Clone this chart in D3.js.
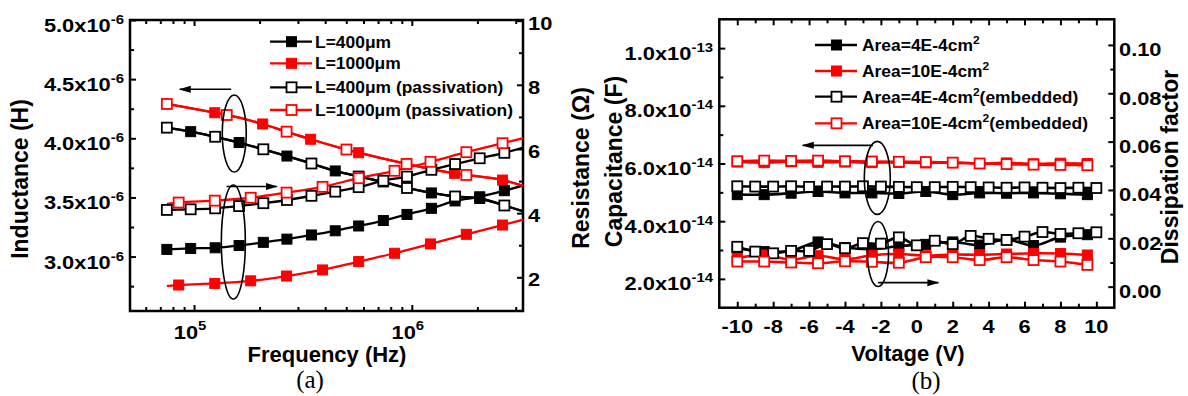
<!DOCTYPE html>
<html>
<head>
<meta charset="utf-8">
<script src="https://cdn.jsdelivr.net/npm/d3@7"></script>
<style>
body { margin: 0; background: #fff; }
svg text { font-family: "Liberation Sans", Arial, sans-serif; font-weight: bold; fill: #000; }
</style>
</head>
<body>
<svg id="chart" width="1188" height="396"></svg>
<script>
// ---------- panel (a): inductance / resistance vs frequency ----------
// black curves (L=400um), one point per measured frequency
var freqBlack = [7.5e4, 9.65e4, 1.25e5, 1.61e5, 2.08e5, 2.67e5, 3.46e5, 4.45e5, 5.7e5, 7.4e5, 9.5e5, 1.23e6, 1.58e6, 2.05e6, 2.66e6, 3.42e6];
var indL400 = [4.09, 4.056, 4.013, 3.964, 3.907, 3.85, 3.787, 3.724, 3.677, 3.631, 3.58, 3.538, 3.508, 3.491, 3.432, 3.37]; // x10^-6 H
var resL400 = [2.87, 2.90, 2.92, 2.99, 3.09, 3.19, 3.32, 3.45, 3.60, 3.77, 3.96, 4.15, 4.38, 4.51, 4.70, 4.91];
var resL400p = [4.10, 4.12, 4.15, 4.22, 4.31, 4.41, 4.54, 4.67, 4.81, 5.01, 5.14, 5.35, 5.53, 5.71, 5.88, 6.09];
// red curves (L=1000um)
var freqRedInd = [7.5e4, 1.245e5, 1.413e5, 2.066e5, 2.66e5, 3.43e5, 5.01e5, 5.7e5, 9.46e5, 1.57e6, 1.78e6, 2.61e6, 3.36e6];
var indL1000 = [4.29, 4.216, 4.197, 4.121, 4.056, 3.992, 3.905, 3.878, 3.783, 3.704, 3.69, 3.647, 3.59];
var freqRedRes = [7.5e4, 8.5e4, 1.245e5, 1.82e5, 2.66e5, 3.89e5, 5.7e5, 8.33e5, 1.218e6, 1.78e6, 2.61e6, 3.36e6];
var resL1000 = [1.73, 1.76, 1.81, 1.89, 2.04, 2.23, 2.49, 2.75, 3.04, 3.34, 3.63, 3.82];
var resL1000p = [4.29, 4.33, 4.39, 4.48, 4.64, 4.82, 5.09, 5.32, 5.60, 5.90, 6.18, 6.36];

var legendA = ['L=400\u03bcm', 'L=1000\u03bcm', 'L=400\u03bcm (passivation)', 'L=1000\u03bcm (passivation)'];
var freqTickMajor = [1e5, 1e6];
var indTicks = [3.0, 3.5, 4.0, 4.5, 5.0];
var resTicks = [2, 4, 6, 8, 10];

// ---------- panel (b): capacitance / dissipation vs voltage ----------
var voltsAll = [-10, -9, -8, -7, -6, -5, -4, -3, -2, -1, 0, 1, 2, 3, 4, 5, 6, 7, 8, 9, 10];
var voltsSkip = [-10, -8.5, -7, -5.5, -4, -2.5, -1, 0.5, 2, 3.5, 5, 6.5, 8, 9.5];
var capA4 = [4.92, 4.92, 4.97, 5.03, 4.98, 4.98, 4.96, 5.03, 4.92, 4.98, 4.97, 4.98, 4.95, 4.92]; // x10^-14 F
var capA10 = [6.05, 6.03, 6.06, 6.04, 6.05, 6.03, 6.04, 6.02, 6.03, 6.0, 6.02, 5.99, 6.01, 6.0];
var capA4e = [5.21, 5.2, 5.2, 5.21, 5.19, 5.2, 5.2, 5.21, 5.2, 5.19, 5.18, 5.18, 5.19, 5.18, 5.17, 5.16, 5.17, 5.16, 5.15, 5.16, 5.15];
var capA10e = [6.08, 6.1, 6.09, 6.1, 6.08, 6.07, 6.06, 6.05, 6.03, 6.0, 5.98, 5.96, 5.95, 5.94];
var dfA4 = [0.016, 0.0145, 0.0148, 0.0185, 0.0162, 0.0155, 0.0168, 0.0175, 0.0185, 0.0172, 0.0195, 0.017, 0.0205, 0.0215];
var dfA10 = [0.0118, 0.0131, 0.0112, 0.0128, 0.0113, 0.013, 0.0135, 0.0128, 0.0133, 0.0132, 0.0135, 0.0138, 0.0137, 0.0131];
var dfA4e = [0.0165, 0.0145, 0.0138, 0.0148, 0.0148, 0.0176, 0.0159, 0.018, 0.0178, 0.0204, 0.0171, 0.019, 0.0176, 0.021, 0.0198, 0.0193, 0.0207, 0.0226, 0.0218, 0.0221, 0.0225];
var dfA10e = [0.0104, 0.0104, 0.010, 0.0097, 0.0105, 0.0103, 0.0099, 0.0122, 0.0122, 0.011, 0.0122, 0.011, 0.0104, 0.009];

var legendB = ['Area=4E-4cm', 'Area=10E-4cm', 'Area=4E-4cm', 'Area=10E-4cm'];
var legendBSuffix = ['', '', '(embedded)', '(embedded)'];
var voltTicks = [-10, -8, -6, -4, -2, 0, 2, 4, 6, 8, 10];
var capTicks = [2, 4, 6, 8, 10];
var capTickMant = ['2.0', '4.0', '6.0', '8.0', '1.0'];
var capTickExp = ['-14', '-14', '-14', '-14', '-13'];
var dfTicks = [0, 0.02, 0.04, 0.06, 0.08, 0.10];

var RED = '#ff0000';
var svg = d3.select('#chart');

var defs = svg.append('defs');
defs.append('marker').attr('id', 'arrow')
  .attr('markerUnits', 'userSpaceOnUse')
  .attr('markerWidth', 12).attr('markerHeight', 8)
  .attr('refX', 11).attr('refY', 4).attr('orient', 'auto')
  .append('path').attr('d', 'M0,0.5 L12,4 L0,7.5 z').attr('fill', '#000');

function addClip(id, x0, y0, w, h) {
  defs.append('clipPath').attr('id', id)
    .append('rect').attr('x', x0).attr('y', y0).attr('width', w).attr('height', h);
}

// ticks only (inward), labels drawn by hand
function tickAxis(g, axis, tx, ty, vals, size) {
  g.append('g')
    .attr('transform', 'translate(' + tx + ',' + ty + ')')
    .call(axis.tickValues(vals).tickSize(-size).tickFormat(''))
    .call(function(a) {
      a.select('.domain').remove();
      a.selectAll('line').attr('stroke', '#000').attr('stroke-width', 2);
    });
}

// text in the reference is a bit wider than Arial, so stretch it a little
function wideText(g, x, y, size, sx, anchor) {
  return g.append('text')
    .attr('transform', 'translate(' + x + ',' + y + ') scale(' + sx + ',1)')
    .attr('text-anchor', anchor || 'start')
    .attr('font-size', size);
}

function drawMarker(g, cx, cy, filled, color, s) {
  g.append('rect')
    .attr('x', cx - s / 2).attr('y', cy - s / 2)
    .attr('width', s).attr('height', s)
    .attr('fill', filled ? color : '#fff')
    .attr('stroke', color).attr('stroke-width', filled ? 1 : 1.8);
}

function sci(text, mant, exp) {
  text.append('tspan').text(mant + 'x10');
  text.append('tspan').attr('dy', -8).attr('font-size', 13).text(exp);
}

// ================= panel (a) =================
var A = { l: 130, r: 523, t: 20, b: 311 };
var xA = d3.scaleLog().domain([5.08e4, 3.24e6]).range([A.l, A.r]);
var yInd = d3.scaleLinear().domain([2.54, 5.0]).range([A.b, A.t]);
var yRes = d3.scaleLinear().domain([0.95, 10.02]).range([A.b, A.t]);
var gA = svg.append('g');
addClip('clipA', A.l, A.t, A.r - A.l, A.b - A.t);

var minorF = [];
[1e4, 1e5, 1e6].forEach(function(d) {
  for (var k = 2; k <= 9; k++) {
    var f = d * k;
    if (f > xA.domain()[0] && f < xA.domain()[1]) minorF.push(f);
  }
});
tickAxis(gA, d3.axisBottom(xA), 0, A.b, freqTickMajor, 6);
tickAxis(gA, d3.axisBottom(xA), 0, A.b, minorF, 4);
tickAxis(gA, d3.axisTop(xA), 0, A.t, freqTickMajor, 6);
tickAxis(gA, d3.axisTop(xA), 0, A.t, minorF, 4);
tickAxis(gA, d3.axisLeft(yInd), A.l, 0, indTicks, 6);
tickAxis(gA, d3.axisLeft(yInd), A.l, 0, [2.75, 3.25, 3.75, 4.25, 4.75], 4);
tickAxis(gA, d3.axisRight(yRes), A.r, 0, resTicks, 6);
tickAxis(gA, d3.axisRight(yRes), A.r, 0, [3, 5, 7, 9], 4);

gA.append('rect').attr('x', A.l).attr('y', A.t)
  .attr('width', A.r - A.l).attr('height', A.b - A.t)
  .attr('fill', 'none').attr('stroke', '#000').attr('stroke-width', 2.5);

indTicks.forEach(function(v) {
  sci(wideText(gA, 124, yInd(v) + 12, 19, 1.15, 'end'), v.toFixed(1), '-6');
});
resTicks.forEach(function(v) {
  wideText(gA, 528, yRes(v) + 9, 19, 1.15).text(v);
});
freqTickMajor.forEach(function(f) {
  var t = wideText(gA, xA(f) - 4, 339, 19, 1.15, 'middle');
  t.append('tspan').text('10');
  t.append('tspan').attr('dy', -9).attr('font-size', 13).text(Math.round(Math.log10(f)));
});

gA.append('text').attr('transform', 'translate(28,179) rotate(-90)')
  .attr('text-anchor', 'middle').attr('font-size', 23).text('Inductance (H)');
gA.append('text').attr('transform', 'translate(589,168) rotate(-90)')
  .attr('text-anchor', 'middle').attr('font-size', 23).text('Resistance (\u03a9)');
gA.append('text').attr('x', 327).attr('y', 362)
  .attr('text-anchor', 'middle').attr('font-size', 22).text('Frequency (Hz)');
gA.append('text').attr('x', 310).attr('y', 388)
  .attr('text-anchor', 'middle').attr('font-size', 25)
  .style('font-family', '"Liberation Serif", "Times New Roman", serif').style('font-weight', 'normal')
  .text('(a)');

var seriesA = [
  { f: freqBlack, v: indL400, y: yInd, color: '#000', filled: true, marks: [1, 3, 5, 7, 9, 11, 13] },
  { f: freqRedInd, v: indL1000, y: yInd, color: RED, filled: true, marks: [1, 3, 5, 7, 8, 9, 11] },
  { f: freqBlack, v: resL400, y: yRes, color: '#000', filled: true, marks: d3.range(0, 15) },
  { f: freqRedRes, v: resL1000, y: yRes, color: RED, filled: true, marks: d3.range(1, 11) },
  { f: freqBlack, v: indL400, y: yInd, color: '#000', filled: false, marks: [0, 2, 4, 6, 8, 10, 12, 14] },
  { f: freqRedInd, v: indL1000, y: yInd, color: RED, filled: false, marks: [0, 2, 4, 6, 8, 10] },
  { f: freqBlack, v: resL400p, y: yRes, color: '#000', filled: false, marks: d3.range(0, 15) },
  { f: freqRedRes, v: resL1000p, y: yRes, color: RED, filled: false, marks: d3.range(1, 11) }
];

var plotA = gA.append('g').attr('clip-path', 'url(#clipA)');
seriesA.forEach(function(s) {
  var pts = s.f.map(function(f, i) { return [xA(f), s.y(s.v[i])]; });
  plotA.append('path')
    .attr('d', d3.line().curve(d3.curveMonotoneX)(pts))
    .attr('fill', 'none').attr('stroke', s.color).attr('stroke-width', 2.3);
});
seriesA.forEach(function(s) {
  s.marks.forEach(function(i) {
    drawMarker(plotA, xA(s.f[i]), s.y(s.v[i]), s.filled, s.color, 10);
  });
});

// annotations
gA.append('ellipse').attr('cx', xA(1.53e5)).attr('cy', yInd(4.04))
  .attr('rx', 12).attr('ry', 38.5).attr('fill', 'none').attr('stroke', '#000').attr('stroke-width', 1.6);
gA.append('ellipse').attr('cx', xA(1.515e5)).attr('cy', yRes(3.10))
  .attr('rx', 12).attr('ry', 57).attr('fill', 'none').attr('stroke', '#000').attr('stroke-width', 1.6);
gA.append('line').attr('x1', xA(1.48e5)).attr('x2', xA(8.6e4))
  .attr('y1', yInd(4.414)).attr('y2', yInd(4.414))
  .attr('stroke', '#000').attr('stroke-width', 1.6).attr('marker-end', 'url(#arrow)');
gA.append('line').attr('x1', xA(1.41e5)).attr('x2', xA(2.4e5))
  .attr('y1', yRes(4.83)).attr('y2', yRes(4.83))
  .attr('stroke', '#000').attr('stroke-width', 1.6).attr('marker-end', 'url(#arrow)');

// legend (a)
var legYA = [41.7, 63.3, 87.3, 110];
[seriesA[0], seriesA[1], seriesA[4], seriesA[5]].forEach(function(s, i) {
  gA.append('line').attr('x1', 270).attr('x2', 312).attr('y1', legYA[i]).attr('y2', legYA[i])
    .attr('stroke', s.color).attr('stroke-width', 2.3);
  drawMarker(gA, 291.5, legYA[i], s.filled, s.color, 10);
  wideText(gA, 315, legYA[i] + 6, 16, 1.09).text(legendA[i]);
});

// ================= panel (b) =================
var B = { l: 719.3, r: 1114.3, t: 19.3, b: 307.7 };
var xB = d3.scaleLinear().domain([-11, 11]).range([B.l, B.r]);
var yCap = d3.scaleLinear().domain([1, 11]).range([B.b, B.t]);
var yDf = d3.scaleLinear().domain([-0.0087, 0.1106]).range([B.b, B.t]);
var gB = svg.append('g');
addClip('clipB', B.l, B.t, B.r - B.l, B.b - B.t);

var voltMinor = [-9, -7, -5, -3, -1, 1, 3, 5, 7, 9];
tickAxis(gB, d3.axisBottom(xB), 0, B.b, voltTicks, 6);
tickAxis(gB, d3.axisBottom(xB), 0, B.b, voltMinor, 4);
tickAxis(gB, d3.axisTop(xB), 0, B.t, voltTicks, 6);
tickAxis(gB, d3.axisTop(xB), 0, B.t, voltMinor, 4);
tickAxis(gB, d3.axisLeft(yCap), B.l, 0, capTicks, 6);
tickAxis(gB, d3.axisLeft(yCap), B.l, 0, [3, 5, 7, 9], 4);
tickAxis(gB, d3.axisRight(yDf), B.r, 0, dfTicks, 6);
tickAxis(gB, d3.axisRight(yDf), B.r, 0, [0.01, 0.03, 0.05, 0.07, 0.09], 4);

gB.append('rect').attr('x', B.l).attr('y', B.t)
  .attr('width', B.r - B.l).attr('height', B.b - B.t)
  .attr('fill', 'none').attr('stroke', '#000').attr('stroke-width', 2.5);

capTicks.forEach(function(v, i) {
  sci(wideText(gB, 713, yCap(v) + 11.5, 19, 1.15, 'end'), capTickMant[i], capTickExp[i]);
});
dfTicks.forEach(function(v) {
  wideText(gB, 1119, yDf(v) + 11.5, 19, 1.15).text(v.toFixed(2));
});
voltTicks.forEach(function(v) {
  wideText(gB, xB(v), 333, 19, 1.15, 'middle').text(v);
});

gB.append('text').attr('transform', 'translate(622,161.5) rotate(-90)')
  .attr('text-anchor', 'middle').attr('font-size', 23).text('Capacitance (F)');
gB.append('text').attr('transform', 'translate(1178,167) rotate(-90)')
  .attr('text-anchor', 'middle').attr('font-size', 23).text('Dissipation factor');
gB.append('text').attr('x', 908).attr('y', 361)
  .attr('text-anchor', 'middle').attr('font-size', 22).text('Voltage (V)');
gB.append('text').attr('x', 926).attr('y', 389)
  .attr('text-anchor', 'middle').attr('font-size', 25)
  .style('font-family', '"Liberation Serif", "Times New Roman", serif').style('font-weight', 'normal')
  .text('(b)');

var seriesB = [
  { x: voltsSkip, v: capA4, y: yCap, color: '#000', filled: true },
  { x: voltsSkip, v: dfA4, y: yDf, color: '#000', filled: true },
  { x: voltsSkip, v: capA10, y: yCap, color: RED, filled: true },
  { x: voltsSkip, v: dfA10, y: yDf, color: RED, filled: true },
  { x: voltsAll, v: capA4e, y: yCap, color: '#000', filled: false },
  { x: voltsAll, v: dfA4e, y: yDf, color: '#000', filled: false },
  { x: voltsSkip, v: capA10e, y: yCap, color: RED, filled: false },
  { x: voltsSkip, v: dfA10e, y: yDf, color: RED, filled: false }
];

var plotB = gB.append('g').attr('clip-path', 'url(#clipB)');
seriesB.forEach(function(s) {
  var pts = s.x.map(function(v, i) { return [xB(v), s.y(s.v[i])]; });
  plotB.append('path')
    .attr('d', d3.line().curve(d3.curveCatmullRom.alpha(0.5))(pts))
    .attr('fill', 'none').attr('stroke', s.color).attr('stroke-width', 2.6);
});
seriesB.forEach(function(s) {
  s.x.forEach(function(v, i) {
    drawMarker(plotB, xB(v), s.y(s.v[i]), s.filled, s.color, 10);
  });
});

gB.append('ellipse').attr('cx', xB(-2.2)).attr('cy', yCap(5.5))
  .attr('rx', 13).attr('ry', 36.5).attr('fill', 'none').attr('stroke', '#000').attr('stroke-width', 1.6);
gB.append('ellipse').attr('cx', xB(-2.16)).attr('cy', yDf(0.01354))
  .attr('rx', 10.5).attr('ry', 32.5).attr('fill', 'none').attr('stroke', '#000').attr('stroke-width', 1.6);
gB.append('line').attr('x1', xB(-2.44)).attr('x2', xB(-6.35))
  .attr('y1', yCap(6.63)).attr('y2', yCap(6.63))
  .attr('stroke', '#000').attr('stroke-width', 1.6).attr('marker-end', 'url(#arrow)');
gB.append('line').attr('x1', xB(-2.16)).attr('x2', xB(1.2))
  .attr('y1', yDf(0.00166)).attr('y2', yDf(0.00166))
  .attr('stroke', '#000').attr('stroke-width', 1.6).attr('marker-end', 'url(#arrow)');

// legend (b)
var legYB = [45, 71, 96.7, 123.3];
[seriesB[0], seriesB[2], seriesB[4], seriesB[6]].forEach(function(s, i) {
  gB.append('line').attr('x1', 815).attr('x2', 857).attr('y1', legYB[i]).attr('y2', legYB[i])
    .attr('stroke', s.color).attr('stroke-width', 2.3);
  drawMarker(gB, 836.5, legYB[i], s.filled, s.color, 10);
  var t = wideText(gB, 862, legYB[i] + 6, 16, 1.09);
  t.append('tspan').text(legendB[i]);
  t.append('tspan').attr('dy', -7).attr('font-size', 11).text('2');
  t.append('tspan').attr('dy', 7).text(legendBSuffix[i]);
});
</script>
</body>
</html>
